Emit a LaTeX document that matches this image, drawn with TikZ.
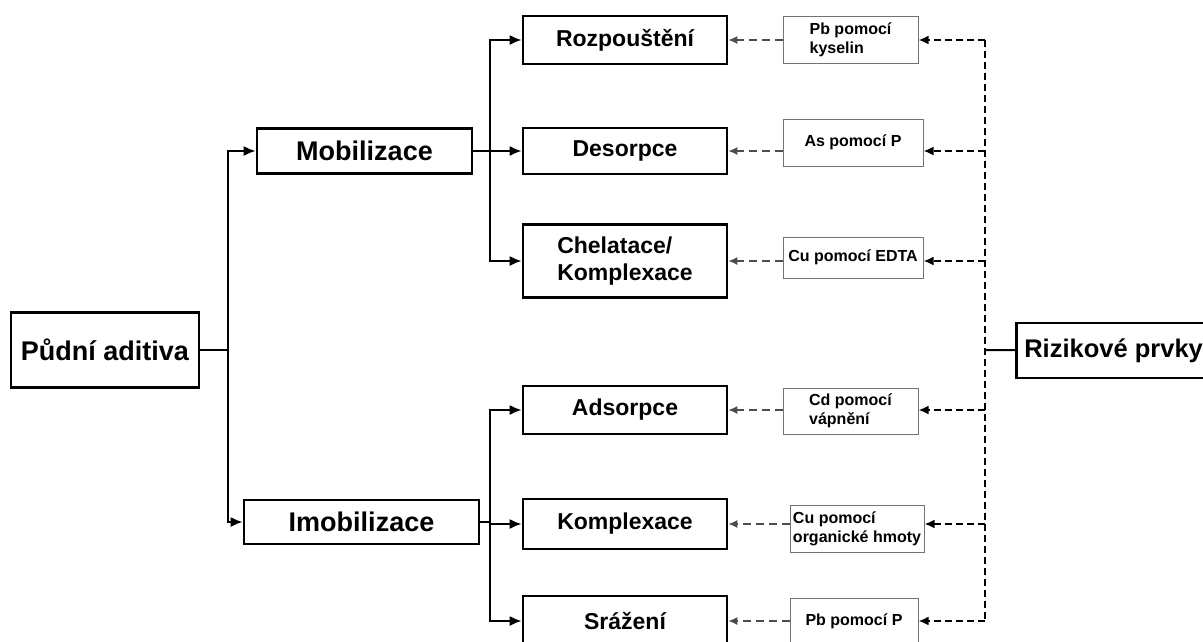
\documentclass[tikz,border=0pt]{standalone}
\usepackage{fontspec}
\setmainfont{Liberation Sans}
\usetikzlibrary{arrows.meta}
\begin{document}
\begin{tikzpicture}[x=1pt,y=-1pt,
				every node/.style={draw,rectangle,inner sep=0pt,font=\bfseries},
				main/.style={line width=2.6pt,font=\bfseries\fontsize{27}{30}\selectfont},
				sub/.style={line width=2.6pt,minimum width=204pt,align=left,font=\bfseries\fontsize{23}{27}\selectfont},
				note/.style={draw=black!55,line width=1pt,align=left,font=\bfseries\fontsize{16}{19}\selectfont},
				link/.style={line width=2pt,-{Latex[length=12pt,width=10pt]}},
				weak/.style={draw=black!70,line width=1.5pt,dash pattern=on 8pt off 5pt,-{Latex[length=9pt,width=8pt]}},
				risk/.style={line width=2.6pt,dash pattern=on 7pt off 4pt,-{Latex[length=10pt,width=9pt]}}]
\useasboundingbox (0,0) rectangle (1203,641);
\clip (0,0) rectangle (1203,641);
\node[main,minimum width=188pt,minimum height=75pt] (pud) at (105,350) {Půdní aditiva};
\node[main,minimum width=215pt,minimum height=45pt] (mob) at (364.5,151) {Mobilizace};
\node[main,minimum width=235pt,minimum height=44pt] (imob) at (361.5,522) {Imobilizace};
\node[main,anchor=west,minimum height=55pt,inner xsep=8pt,font=\bfseries\fontsize{25.5}{30}\selectfont] (riz) at (1015,350.5) {Rizikové prvky};
\node[sub,minimum height=48pt] (rozp) at (625,40) {Rozpouštění};
\node[sub,minimum height=46pt] (deso) at (625,151) {Desorpce};
\node[sub,minimum height=73pt] (chel) at (625,261) {Chelatace/\\Komplexace};
\node[sub,minimum height=48pt] (adso) at (625,410) {Adsorpce};
\node[sub,minimum height=50pt] (komp) at (625,524) {Komplexace};
\node[sub,minimum height=50pt] (sraz) at (625,621) {Srážení};
\node[note,minimum width=135pt,minimum height=47pt] (n1) at (850.5,39.5) {Pb pomocí\\kyselin};
\node[note,minimum width=140pt,minimum height=47pt] (n2) at (853,142.5) {As pomocí P};
\node[note,minimum width=140pt,minimum height=41pt] (n3) at (853,257.5) {Cu pomocí EDTA};
\node[note,minimum width=135pt,minimum height=46pt] (n4) at (850.5,411) {Cd pomocí\\vápnění};
\node[note,minimum width=134pt,minimum height=47pt] (n5) at (857,528.5) {Cu pomocí\\organické hmoty};
\node[note,minimum width=128pt,minimum height=47pt] (n6) at (854,621.5) {Pb pomocí P};
\coordinate (jl) at (228,350);
\coordinate (jm) at (490,151);
\coordinate (ji) at (490,522);
\coordinate (jr) at (985,350);
\draw[line width=2pt] (pud) -- (jl);
\draw[link] (jl) |- (mob);
\draw[link] (jl) |- (imob);
\draw[line width=2pt] (mob) -- (jm);
\draw[link] (jm) |- (rozp);
\draw[link] (jm) -- (deso);
\draw[link] (jm) |- (chel);
\draw[line width=2pt] (imob) -- (ji);
\draw[link] (ji) |- (adso);
\draw[link] (ji) |- (komp);
\draw[link] (ji) |- (sraz);
\draw[weak] (n1.west |- rozp) -- (rozp);
\draw[weak] (n2.west |- deso) -- (deso);
\draw[weak] (n3.west |- chel) -- (chel);
\draw[weak] (n4.west |- adso) -- (adso);
\draw[weak] (n5.west |- komp) -- (komp);
\draw[weak] (n6.west |- sraz) -- (sraz);
\draw[risk,-] (jr |- rozp) -- (jr |- sraz);
\draw[risk] (jr |- rozp) -- (n1.east |- rozp);
\draw[risk] (jr |- deso) -- (n2.east |- deso);
\draw[risk] (jr |- chel) -- (n3.east |- chel);
\draw[risk] (jr |- adso) -- (n4.east |- adso);
\draw[risk] (jr |- komp) -- (n5.east |- komp);
\draw[risk] (jr |- sraz) -- (n6.east |- sraz);
\draw[line width=2pt] (riz) -- (jr);
\end{tikzpicture}
\end{document}
